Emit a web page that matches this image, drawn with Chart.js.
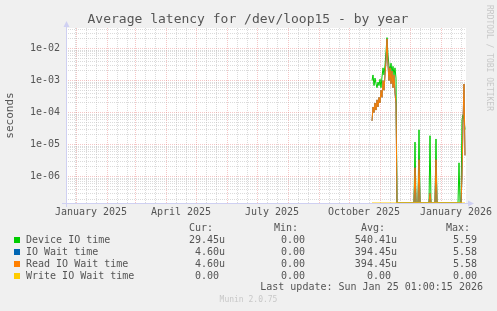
<!DOCTYPE html>
<html>
<head>
<meta charset="utf-8">
<script src="https://cdn.jsdelivr.net/npm/chart.js@4.4.1/dist/chart.umd.min.js"></script>
<style>
  html, body { margin: 0; padding: 0; background: #f0f0f0; }
  body { width: 497px; height: 311px; position: relative; overflow: hidden;
         font-family: 'DejaVu Sans Mono', monospace; color: #555; }
  #wrap { position: absolute; left: 0; top: 0; width: 497px; height: 225px; }
  .t { position: absolute; white-space: pre; font-size: 10px; line-height: 12px; }
  .r { text-align: right; }
  .sw { position: absolute; width: 6px; height: 6px; }
  #title { position: absolute; left: 0; top: 11px; width: 496px; text-align: center;
           font-size: 13px; line-height: 15px; color: #555; }
  #side { position: absolute; left: 484px; top: 5px; writing-mode: vertical-rl;
          font-size: 8px; line-height: 10px; color: #c8c8c8; white-space: pre; }
  #munin { position: absolute; left: 0; width: 497px; top: 295px; text-align: center;
           font-size: 8px; line-height: 10px; color: #c8c8c8; }
</style>
</head>
<body>
<div id="wrap"><canvas id="myChart" width="497" height="225"></canvas></div>
<div id="title">Average latency for /dev/loop15 - by year</div>
<div id="side">RRDTOOL / TOBI OETIKER</div>
<div id="legend"></div>
<div id="munin">Munin 2.0.75</div>
<script>
// days counted from 1 January 2025
const days = [296, 297, 298, 299, 300, 301, 302, 303, 304, 305, 306, 307, 308,
  309, 310, 311, 312, 313, 314, 315, 316, 317, 318, 319, 320, 321,
  338, 339, 340, 342, 343, 344, 353, 354, 355, 359, 360, 361,
  382, 383, 384, 385, 386, 387, 388, 389];

const deviceIOTime = [1.0e-3, 1.5e-3, 7e-4, 1.2e-3, 8e-4, 6e-4, 9e-4, 7e-4, 1.1e-3,
  6e-4, 1.3e-3, 2.5e-3, 1.5e-3, 3.0e-3, 8.0e-3, 2.2e-2, 6.0e-3, 3.0e-3, 2.0e-3,
  3.5e-3, 1.8e-3, 2.8e-3, 1.5e-3, 2.5e-3, 1.2e-3, 0,
  0, 1.2e-5, 0, 0, 2.9e-5, 0, 0, 1.9e-5, 0, 0, 1.5e-5, 0,
  0, 2.7e-6, 0, 0, 6e-5, 8.5e-5, 6e-5, 2.945e-5];

const ioWaitTime = [5.5e-5, 1.5e-4, 1.0e-4, 2.0e-4, 1.2e-4, 2.5e-4, 1.5e-4, 3.0e-4, 2.0e-4,
  5.0e-4, 3.0e-4, 1.0e-3, 5.0e-4, 1.5e-3, 4.0e-3, 2.0e-2, 3.0e-3, 1.0e-3, 2.5e-3,
  8.0e-4, 2.0e-3, 6.0e-4, 1.5e-3, 4.0e-4, 2.0e-4, 0,
  0, 1.9e-6, 0, 0, 3.4e-6, 0, 0, 3e-7, 0, 0, 3.4e-6, 0,
  0, 0, 0, 0, 1e-6, 5e-5, 7.8e-4, 4.6e-6];

const readIOWaitTime = [5.5e-5, 1.5e-4, 1.0e-4, 2.0e-4, 1.2e-4, 2.5e-4, 1.5e-4, 3.0e-4, 2.0e-4,
  5.0e-4, 3.0e-4, 1.0e-3, 5.0e-4, 1.5e-3, 4.0e-3, 2.0e-2, 3.0e-3, 1.0e-3, 2.5e-3,
  8.0e-4, 2.0e-3, 6.0e-4, 1.5e-3, 4.0e-4, 2.0e-4, 0,
  0, 1.9e-6, 0, 0, 3.4e-6, 0, 0, 3e-7, 0, 0, 3.4e-6, 0,
  0, 0, 0, 0, 1e-6, 5e-5, 7.8e-4, 4.6e-6];

const writeIOWaitTime = [0, 0, 0, 0, 0, 0, 0, 0, 0, 0, 0, 0, 0, 0, 0, 0, 0, 0, 0, 0,
  0, 0, 0, 0, 0, 0, 0, 0, 0, 0, 0, 0, 0, 0, 0, 0, 0, 0, 0, 0, 0, 0, 0, 0, 0, 0];

const seriesNames = ['Device IO time', 'IO Wait time', 'Read IO Wait time', 'Write IO Wait time'];
const seriesColors = ['#00cc00', '#0066b3', '#ff8000', '#ffcc00'];
const curValues = ['29.45u', '4.60u', '4.60u', '0.00 '];
const minValues = ['0.00 ', '0.00 ', '0.00 ', '0.00 '];
const avgValues = ['540.41u', '394.45u', '394.45u', '0.00 '];
const maxValues = ['5.59 ', '5.58 ', '5.58 ', '0.00 '];

// x axis: month starts (major grid), minor grid days, label positions
const monthStarts = [0, 31, 59, 90, 120, 151, 181, 212, 243, 273, 304, 334, 365];
const minorDays = [-1, 10, 20, 41, 51, 69, 79, 100, 110, 130, 140, 161, 171, 191, 201,
  222, 232, 253, 263, 283, 293, 314, 324, 344, 354, 375, 385];
const xLabelDays = [15, 105, 196, 288, 380];
const xLabels = ['January 2025', 'April 2025', 'July 2025', 'October 2025', 'January 2026'];
const xStart = -10, xEnd = 390;
const yMin = 1.5e-7, yMax = 4.4e-2;

const mono = 'DejaVu Sans Mono';
const majorGrid = 'rgba(230,120,120,0.42)';
const minorGrid = 'rgba(175,175,175,0.45)';

const yTicks = [];
for (let e = -7; e <= -2; e++) {
  for (let k = 1; k <= 9; k++) {
    const v = k * Math.pow(10, e);
    if (v >= yMin && v <= yMax) yTicks.push(v);
  }
}
function isDecade(v) {
  const l = Math.log10(v);
  return Math.abs(l - Math.round(l)) < 1e-6;
}

function points(values) {
  // zero has no place on a log axis: rrdtool puts it on the bottom edge
  return days.map((d, i) => ({x: d, y: values[i] === 0 ? yMin : values[i]}));
}

const allSeries = [deviceIOTime, ioWaitTime, readIOWaitTime, writeIOWaitTime];
const datasets = allSeries.map((vals, i) => ({
  label: seriesNames[i],
  data: points(vals),
  borderColor: seriesColors[i],
  backgroundColor: seriesColors[i],
  borderWidth: 1,
  pointRadius: 0,
  tension: 0,
  order: 4 - i
}));

const frame = {
  id: 'frame',
  beforeDraw(chart) {
    const a = chart.chartArea, c = chart.ctx;
    c.save();
    c.fillStyle = '#ffffff';
    c.fillRect(a.left, a.top, a.right - a.left, a.bottom - a.top);
    c.restore();
  },
  beforeDatasetsDraw(chart) {
    const a = chart.chartArea, c = chart.ctx;
    c.save();
    c.strokeStyle = '#cfd0f2';
    c.fillStyle = '#cfd0f2';
    c.lineWidth = 1;
    c.beginPath();
    c.moveTo(a.left + 0.5, a.bottom + 4);
    c.lineTo(a.left + 0.5, a.top - 2);
    c.moveTo(a.left - 4, a.bottom + 0.5);
    c.lineTo(a.right + 3, a.bottom + 0.5);
    c.stroke();
    c.beginPath();
    c.moveTo(a.left - 2.5, a.top - 1);
    c.lineTo(a.left + 3.5, a.top - 1);
    c.lineTo(a.left + 0.5, a.top - 7);
    c.fill();
    c.beginPath();
    c.moveTo(a.right + 2, a.bottom - 2.5);
    c.lineTo(a.right + 2, a.bottom + 3.5);
    c.lineTo(a.right + 8, a.bottom + 0.5);
    c.fill();
    c.restore();
  }
};

const ctx = document.getElementById('myChart').getContext('2d');
const chart = new Chart(ctx, {
  type: 'line',
  data: {datasets: datasets},
  plugins: [frame],
  options: {
    responsive: false,
    animation: false,
    devicePixelRatio: 1,
    layout: {padding: {left: 0, top: 28, right: 31, bottom: 0}},
    plugins: {legend: {display: false}, tooltip: {enabled: false}},
    scales: {
      x: {
        type: 'linear',
        min: xStart,
        max: xEnd,
        afterBuildTicks(s) {
          s.ticks = monthStarts.concat(minorDays, xLabelDays).map(v => ({value: v}));
        },
        afterFit(s) { s.height = 22; },
        grid: {
          drawTicks: false,
          lineWidth: 1,
          color(c) {
            const v = c.tick.value;
            if (monthStarts.includes(v)) return majorGrid;
            if (minorDays.includes(v)) return minorGrid;
            return 'rgba(0,0,0,0)';
          }
        },
        border: {display: false, dash: [1, 1]},
        ticks: {
          autoSkip: false,
          maxRotation: 0,
          padding: 3,
          color: '#555',
          font: {family: mono, size: 10},
          callback(v) {
            const i = xLabelDays.indexOf(v);
            return i >= 0 ? xLabels[i] : '';
          }
        }
      },
      y: {
        type: 'logarithmic',
        min: yMin,
        max: yMax,
        afterBuildTicks(s) { s.ticks = yTicks.map(v => ({value: v})); },
        afterFit(s) { s.width = 66; },
        title: {
          display: true,
          text: 'seconds',
          color: '#555',
          font: {family: mono, size: 11},
          padding: {top: 4, bottom: 0}
        },
        grid: {
          drawTicks: false,
          lineWidth: 1,
          color(c) { return isDecade(c.tick.value) ? majorGrid : minorGrid; }
        },
        border: {display: false, dash: [1, 1]},
        ticks: {
          autoSkip: false,
          padding: 6,
          color: '#555',
          font: {family: mono, size: 10},
          callback(v) {
            if (!isDecade(v)) return '';
            const e = Math.round(Math.log10(v));
            return '1e' + (e < 0 ? '-' : '+') + String(Math.abs(e)).padStart(2, '0');
          }
        }
      }
    }
  }
});

// legend table below the graph, the way munin prints it
const legend = document.getElementById('legend');
function cell(text, right, top, cls) {
  const el = document.createElement('div');
  el.className = 't r' + (cls ? ' ' + cls : '');
  el.style.right = (497 - right) + 'px';
  el.style.top = top + 'px';
  el.textContent = text;
  legend.appendChild(el);
}
cell('Cur:', 213, 222);
cell('Min:', 298, 222);
cell('Avg:', 385, 222);
cell('Max:', 470, 222);
seriesNames.forEach((name, i) => {
  const top = 234 + i * 12;
  const sw = document.createElement('div');
  sw.className = 'sw';
  sw.style.left = '14px';
  sw.style.top = (top + 3) + 'px';
  sw.style.background = seriesColors[i];
  legend.appendChild(sw);
  const lab = document.createElement('div');
  lab.className = 't';
  lab.style.left = '26px';
  lab.style.top = top + 'px';
  lab.textContent = name;
  legend.appendChild(lab);
  cell(curValues[i], 225, top);
  cell(minValues[i], 311, top);
  cell(avgValues[i], 397, top);
  cell(maxValues[i], 483, top);
});
cell('Last update: Sun Jan 25 01:00:15 2026', 483, 281);
</script>
</body>
</html>
